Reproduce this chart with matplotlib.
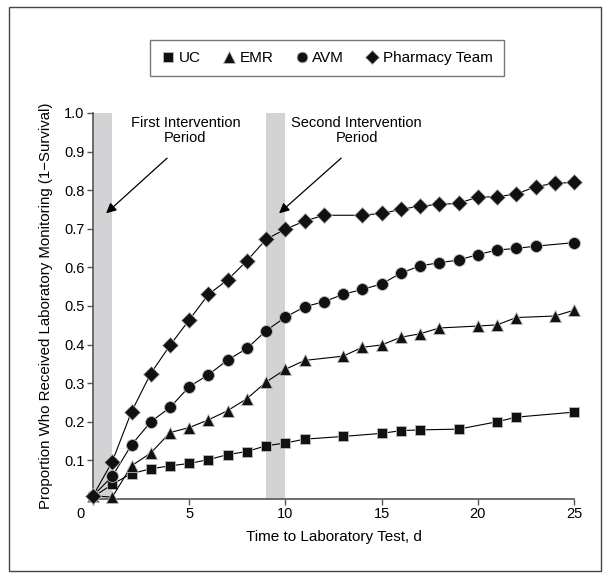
import matplotlib
matplotlib.use('Agg')
import matplotlib.pyplot as plt
import matplotlib.transforms as mtransforms
from matplotlib.patches import Rectangle

plt.rcParams['font.family'] = ['Liberation Sans', 'DejaVu Sans']

# 데이터
uc_x = [0, 1, 2, 3, 4, 5, 6, 7, 8, 9, 10, 11, 13, 15, 16, 17, 19, 21, 22, 25]
uc_y = [0.005, 0.038, 0.066, 0.078, 0.086, 0.092, 0.102, 0.115, 0.123, 0.138, 0.145, 0.155,
        0.162, 0.170, 0.177, 0.179, 0.181, 0.200, 0.212, 0.225]

emr_x = [0, 1, 2, 3, 4, 5, 6, 7, 8, 9, 10, 11, 13, 14, 15, 16, 17, 18, 20, 21, 22, 24, 25]
emr_y = [0.008, 0.005, 0.086, 0.119, 0.172, 0.185, 0.205, 0.229, 0.260, 0.303, 0.336, 0.359,
         0.370, 0.393, 0.399, 0.419, 0.428, 0.443, 0.448, 0.451, 0.470, 0.474, 0.489]

avm_x = [0, 1, 2, 3, 4, 5, 6, 7, 8, 9, 10, 11, 12, 13, 14, 15, 16, 17, 18, 19, 20, 21, 22, 23, 25]
avm_y = [0.008, 0.059, 0.140, 0.200, 0.237, 0.291, 0.322, 0.360, 0.390, 0.436, 0.471, 0.498,
         0.511, 0.530, 0.543, 0.557, 0.585, 0.604, 0.612, 0.619, 0.633, 0.645, 0.649, 0.655, 0.664]

pt_x = [0, 1, 2, 3, 4, 5, 6, 7, 8, 9, 10, 11, 12, 14, 15, 16, 17, 18, 19, 20, 21, 22, 23, 24, 25]
pt_y = [0.008, 0.097, 0.226, 0.325, 0.398, 0.464, 0.530, 0.568, 0.617, 0.673, 0.699, 0.720,
        0.735, 0.735, 0.740, 0.750, 0.759, 0.763, 0.766, 0.782, 0.783, 0.790, 0.809, 0.818, 0.820]

bands = [(0, 1), (9, 10)]
x_ticks = [0, 5, 10, 15, 20, 25]
y_ticks = [0.1, 0.2, 0.3, 0.4, 0.5, 0.6, 0.7, 0.8, 0.9, 1.0]

# 그림
fig = plt.figure(figsize=(6.1, 5.79), dpi=100)
ax = fig.add_axes([0.1525, 0.1382, 0.7885, 0.6667])

for a, b in bands:
    ax.axvspan(a, b, color='#d3d3d5', lw=0, zorder=0)

series = [
    (uc_x, uc_y, 's', 7.4, 'UC'),
    (emr_x, emr_y, '^', 9.2, 'EMR'),
    (avm_x, avm_y, 'o', 8.6, 'AVM'),
    (pt_x, pt_y, 'D', 8.4, 'Pharmacy Team'),
]
for xs, ys, m, ms, lab in series:
    ax.plot(xs, ys, color='black', lw=0.8, marker=m, markersize=ms,
            markerfacecolor='#111111', markeredgecolor='#bbbbbb', markeredgewidth=0.6,
            label=lab, zorder=3, clip_on=False)

ax.set_xlim(0, 25)
ax.set_ylim(0, 1.0)
ax.set_xticks(x_ticks)
ax.set_yticks(y_ticks)
ax.set_yticklabels(['%.1f' % v for v in y_ticks])
ax.tick_params(axis='both', labelsize=10.5, color='#555555', width=1.0, length=4, pad=2)

for s in ['top', 'right']:
    ax.spines[s].set_visible(False)
for s in ['left', 'bottom']:
    ax.spines[s].set_color('#555555')
    ax.spines[s].set_linewidth(1.2)

# "0" 라벨을 왼쪽으로
shift = mtransforms.ScaledTranslation(-13 / 100, 0, fig.dpi_scale_trans)
lbl0 = ax.get_xticklabels()[0]
lbl0.set_transform(lbl0.get_transform() + shift)

ax.set_xlabel('Time to Laboratory Test, d', fontsize=11, labelpad=6)
ax.set_ylabel('Proportion Who Received Laboratory Monitoring (1\u2212Survival)', fontsize=10.8, labelpad=8)

# 개입 기간 표시
ax.text(4.8, 0.955, 'First Intervention\nPeriod', ha='center', va='center',
        fontsize=10.5, linespacing=1.1)
ax.text(13.7, 0.955, 'Second Intervention\nPeriod', ha='center', va='center',
        fontsize=10.5, linespacing=1.1)
arrow = dict(arrowstyle='-|>', color='black', lw=0.9, shrinkA=0, shrinkB=0, mutation_scale=15)
ax.annotate('', xy=(0.68, 0.74), xytext=(3.85, 0.883), arrowprops=arrow)
ax.annotate('', xy=(9.67, 0.74), xytext=(12.9, 0.883), arrowprops=arrow)

leg = fig.legend(loc='center', bbox_to_anchor=(0.536, 0.90), ncol=4, frameon=True,
                 fancybox=False, fontsize=11, handlelength=0.9, handletextpad=0.25,
                 columnspacing=1.4, borderpad=0.7, markerscale=0.9)
leg.get_frame().set_edgecolor('#555555')
leg.get_frame().set_linewidth(1.0)
for h in leg.legend_handles:
    h.set_linestyle('None')

# 바깥 테두리
fig.patches.append(Rectangle((9 / 610, 1 - 571 / 579), 592 / 610, 564 / 579,
                             transform=fig.transFigure, fill=False,
                             edgecolor='#444444', lw=1.0))

fig.savefig('out.png', dpi=100)
